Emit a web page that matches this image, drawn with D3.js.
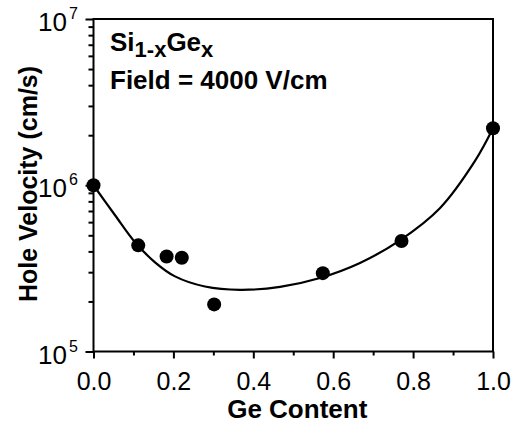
<!DOCTYPE html>
<html>
<head>
<meta charset="utf-8">
<script src="https://cdn.jsdelivr.net/npm/d3@7"></script>
<style>
  html, body { margin: 0; padding: 0; background: #fff; }
  svg { display: block; font-family: "Liberation Sans", Arial, Helvetica, sans-serif; }
</style>
</head>
<body>
<svg id="chart" width="521" height="427"></svg>
<script>
// ---- data ----
const geContent = [0.0, 0.112, 0.183, 0.221, 0.302, 0.574, 0.771, 1.0];
const holeVelocity = [1.0e6, 4.35e5, 3.73e5, 3.66e5, 1.92e5, 2.96e5, 4.62e5, 2.2e6];

const fitX = [0.0, 0.054, 0.104, 0.154, 0.204, 0.279, 0.367, 0.467, 0.567, 0.667, 0.767, 0.867, 0.955, 1.0];
const fitV = [1.0e6, 6.60e5, 4.54e5, 3.44e5, 2.83e5, 2.46e5, 2.35e5, 2.45e5, 2.77e5, 3.41e5, 4.66e5, 7.27e5, 1.40e6, 2.2e6];

const xMajorTicks = [0.0, 0.2, 0.4, 0.6, 0.8, 1.0];
const xMinorTicks = [0.1, 0.3, 0.5, 0.7, 0.9];
const yMajorTicks = [1e5, 1e6, 1e7];
const yExponents = ["5", "6", "7"];
const yMinorTicks = [2,3,4,5,6,7,8,9].map(m => m * 1e5).concat([2,3,4,5,6,7,8,9].map(m => m * 1e6));

const xTitle = "Ge Content";
const yTitle = "Hole Velocity (cm/s)";
const fieldText = "Field = 4000 V/cm";

// ---- layout ----
const L = 93.5, R = 493, T = 19, B = 351.5;
const svg = d3.select("#chart");
const x = d3.scaleLinear().domain([0, 1]).range([L, R]);
const y = d3.scaleLog().domain([1e5, 1e7]).range([B, T]);

// frame
svg.append("rect")
  .attr("x", L).attr("y", T).attr("width", R - L).attr("height", B - T)
  .attr("fill", "none").attr("stroke", "#000").attr("stroke-width", 2);

// x axis
const gx = svg.append("g").attr("transform", `translate(0,${B})`);
gx.call(d3.axisBottom(x).tickValues(xMajorTicks).tickSize(7).tickPadding(14).tickFormat(d3.format(".1f")));
gx.append("g").call(d3.axisBottom(x).tickValues(xMinorTicks).tickSize(4).tickFormat(""));
gx.selectAll(".domain").remove();
gx.selectAll("line").attr("stroke", "#000").attr("stroke-width", 2);
gx.selectAll("text").attr("font-size", 25).attr("fill", "#000")
  .attr("font-family", "Liberation Sans, Arial, sans-serif");

// y axis
const gy = svg.append("g").attr("transform", `translate(${L},0)`);
gy.call(d3.axisLeft(y).tickValues(yMajorTicks).tickSize(8).tickFormat(""));
gy.append("g").call(d3.axisLeft(y).tickValues(yMinorTicks).tickSize(5).tickFormat(""));
gy.selectAll(".domain").remove();
gy.selectAll("line").attr("stroke", "#000").attr("stroke-width", 2);

// y tick labels 10^n
yMajorTicks.forEach((v, i) => {
  const t = svg.append("text")
    .attr("x", 38).attr("y", y(v) + 12)
    .attr("font-size", 26).attr("fill", "#000");
  t.append("tspan").text("10");
  t.append("tspan").attr("dy", -12).attr("font-size", 16).attr("dx", 2).text(yExponents[i]);
});

// titles
svg.append("text")
  .attr("x", x(0.51)).attr("y", 418)
  .attr("text-anchor", "middle").attr("font-size", 26).attr("font-weight", "bold")
  .text(xTitle);

svg.append("text")
  .attr("transform", `translate(37,184) rotate(-90)`)
  .attr("text-anchor", "middle").attr("font-size", 25).attr("font-weight", "bold")
  .text(yTitle);

// annotation
const ann = svg.append("text").attr("x", 110).attr("y", 51)
  .attr("font-size", 26).attr("font-weight", "bold");
ann.append("tspan").text("Si");
ann.append("tspan").attr("dy", 6).attr("font-size", 22).text("1-x");
ann.append("tspan").attr("dy", -6).text("Ge");
ann.append("tspan").attr("dy", 6).attr("font-size", 22).text("x");

svg.append("text").attr("x", 110).attr("y", 89)
  .attr("font-size", 26).attr("font-weight", "bold")
  .text(fieldText);

// fit curve
const line = d3.line()
  .x((d, i) => x(fitX[i]))
  .y(d => y(d))
  .curve(d3.curveCatmullRom.alpha(0.5));
svg.append("path")
  .attr("d", line(fitV))
  .attr("fill", "none").attr("stroke", "#000").attr("stroke-width", 2.2);

// points
svg.append("g").selectAll("circle")
  .data(geContent.map((g, i) => [g, holeVelocity[i]]))
  .join("circle")
  .attr("cx", d => x(d[0])).attr("cy", d => y(d[1]))
  .attr("r", 7).attr("fill", "#000");
</script>
</body>
</html>
